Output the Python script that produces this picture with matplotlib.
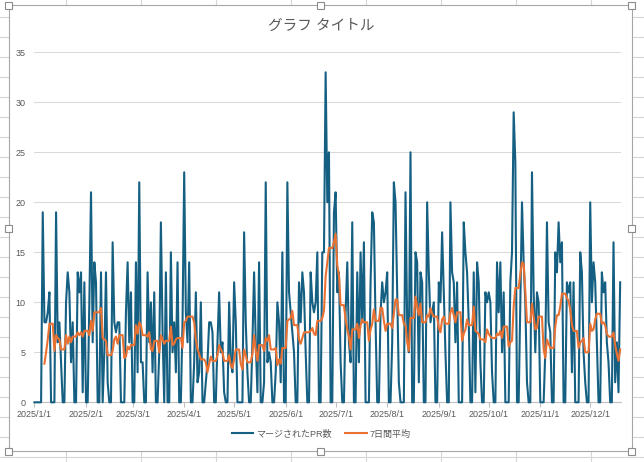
import numpy as np
import pandas as pd
import matplotlib
matplotlib.use('Agg')
import matplotlib.pyplot as plt
import matplotlib.dates as mdates
from matplotlib.patches import Rectangle
from matplotlib.ticker import FuncFormatter

# daily merged PR counts, 2025/1/1 .. 2025/12/19 (weekends / holidays are 0)
jan = [0, 0, 0, 0, 0, 19, 8, 8, 9, 11, 0, 0, 0, 19, 6, 8, 4, 0, 0,
       10, 13, 11, 4, 8, 0, 0, 13, 11, 13, 1, 12]
feb = [0, 0, 10, 21, 6, 14, 12, 0, 0, 13, 0, 5, 13, 2, 0, 0,
       16, 8, 7, 8, 8, 0, 0, 0, 9, 14, 6, 11]
mar = [0, 0, 14, 3, 22, 4, 4, 0, 0, 13, 6, 10, 3, 11, 0, 0,
       5, 18, 7, 0, 13, 0, 0, 15, 5, 8, 3, 14, 0, 0, 8]
apr = [23, 9, 6, 14, 0, 0, 4, 11, 2, 3, 10, 0, 0, 2, 4, 8, 8, 7, 0, 0,
       6, 11, 5, 6, 1, 0, 0, 10, 4, 3]
may = [12, 8, 0, 0, 0, 0, 17, 8, 3, 0, 0, 6, 13, 6, 1, 14, 0, 0,
       2, 22, 4, 5, 4, 0, 0, 3, 10, 8, 2, 15, 0]
jun = [0, 22, 11, 9, 7, 5, 0, 0, 12, 8, 13, 11, 5, 0, 0, 13, 10, 9, 10, 15, 0, 0,
       15, 15, 33, 20, 25, 0, 0, 19]
jul = [21, 11, 13, 4, 0, 0, 9, 14, 6, 4, 18, 0, 0, 13, 4, 15, 8, 16, 0, 0,
       0, 12, 19, 18, 8, 0, 0, 9, 12, 10, 11]
aug = [13, 0, 0, 6, 22, 20, 11, 2, 0, 0, 0, 21, 8, 5, 25, 0, 0,
       15, 14, 2, 13, 12, 0, 0, 20, 13, 8, 9, 10, 0, 0]
sep = [12, 10, 17, 11, 5, 0, 0, 20, 13, 12, 6, 12, 0, 0, 0, 18, 15, 13, 8, 0, 0,
       13, 1, 14, 12, 4, 0, 0, 11, 10]
oct_ = [11, 10, 3, 0, 0, 14, 9, 14, 5, 11, 0, 0, 0, 12, 15, 29, 24, 0, 0,
        10, 20, 14, 10, 2, 0, 0, 23, 11, 5, 11, 10]
nov = [0, 0, 0, 5, 18, 8, 7, 0, 0, 15, 13, 18, 14, 16, 0, 0,
       12, 11, 12, 3, 12, 0, 0, 0, 15, 13, 5, 2, 0, 0]
dec = [20, 10, 14, 12, 6, 0, 0, 13, 11, 12, 6, 4, 0, 0, 16, 2, 6, 1, 12]

series_names = ['マージされたPR数', '7日間平均']
title = 'グラフ タイトル'

counts = pd.Series(jan + feb + mar + apr + may + jun + jul + aug + sep + oct_ + nov + dec)
dates = pd.date_range('2025-01-01', periods=len(counts), freq='D')
avg7 = counts.rolling(7).mean()

plt.rcParams['font.family'] = ['Liberation Sans', 'Noto Sans CJK JP']

W, H = 644, 462
fig = plt.figure(figsize=(W / 100, H / 100), dpi=100)

# spreadsheet behind the chart
bg = fig.add_axes([0, 0, 1, 1])
bg.set_xlim(0, W)
bg.set_ylim(H, 0)
bg.axis('off')
for x in range(66, W, 75):
    bg.plot([x, x], [0, H], color='#d6d6d6', lw=0.8)
for y in np.arange(16.7, H, 20):
    bg.plot([0, W], [y, y], color='#d6d6d6', lw=0.8)
bg.add_patch(Rectangle((9, 5), 623, 446, facecolor='white', edgecolor='#a6a6a6', lw=0.8, zorder=2))
for hx, hy in [(9, 5), (320.5, 5), (632, 5), (9, 228), (632, 228), (9, 451), (320.5, 451), (632, 451)]:
    bg.add_patch(Rectangle((hx - 3.5, hy - 3.5), 7, 7, facecolor='white',
                           edgecolor='#8c8c8c', lw=0.8, zorder=3))

ax = fig.add_axes([33.6 / W, 1 - 402.3 / H, (621 - 33.6) / W, (402.3 - 52.3) / H])
ax.set_facecolor('none')

ax.plot(dates, counts, color='#156082', lw=1.5, label=series_names[0],
        solid_joinstyle='round', clip_on=False, zorder=3)
ax.plot(dates, avg7, color='#E97132', lw=1.5, label=series_names[1],
        solid_joinstyle='round', clip_on=False, zorder=4)

ax.set_ylim(0, 35)
ax.set_yticks(range(0, 36, 5))
ax.grid(axis='y', color='#d9d9d9', lw=0.75)
ax.set_axisbelow(True)
ax.set_xlim(dates[0] - pd.Timedelta(hours=12), dates[-1] + pd.Timedelta(hours=12))
ax.xaxis.set_major_locator(mdates.MonthLocator())


def fmt(v, p):
    d = mdates.num2date(v)
    return f"{d.year}/{d.month}/{d.day}"


ax.xaxis.set_major_formatter(FuncFormatter(fmt))
ax.tick_params(axis='x', length=3.5, color='#bfbfbf', labelsize=6.5, labelcolor='#595959', pad=2)
ax.tick_params(axis='y', length=0, labelsize=6.5, labelcolor='#595959', pad=6)
for s in ['left', 'right', 'top']:
    ax.spines[s].set_visible(False)
ax.spines['bottom'].set_color('#bfbfbf')
ax.spines['bottom'].set_linewidth(0.8)

fig.text(321 / W, 1 - 26 / H, title, ha='center', va='center', fontsize=10.5, color='#595959')

fig.legend(loc='center', bbox_to_anchor=(321 / W, 1 - 434 / H), ncol=2, frameon=False,
           fontsize=6.5, handlelength=2.4, handletextpad=0.3, columnspacing=1.5,
           labelcolor='#595959')

fig.savefig('out.png', dpi=100)
